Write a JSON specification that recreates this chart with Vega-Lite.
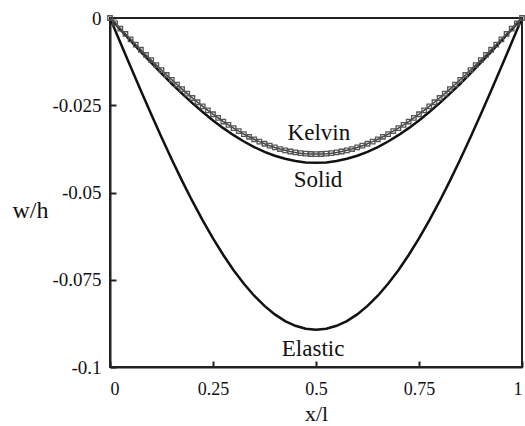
{
  "$schema": "https://vega.github.io/schema/vega-lite/v6.json",
  "width": 412,
  "height": 349,
  "autosize": "none",
  "padding": {"left": 110, "top": 18, "right": 3, "bottom": 59},
  "background": "white",
  "config": {
    "view": {"stroke": "#222", "strokeWidth": 2},
    "font": "Liberation Serif",
    "axis": {
      "grid": false,
      "domainColor": "#222",
      "domainWidth": 2,
      "tickColor": "#222",
      "tickWidth": 2,
      "tickSize": -6,
      "labelFont": "Liberation Serif",
      "labelColor": "#111",
      "titleFont": "Liberation Serif",
      "titleFontWeight": "normal",
      "titleColor": "#111"
    }
  },
  "datasets": {
    "curves": [
      {"x": 0, "solid": 0, "elastic": 0},
      {"x": 0.025, "solid": -0.00326, "elastic": -0.00701},
      {"x": 0.05, "solid": -0.00649, "elastic": -0.01397},
      {"x": 0.075, "solid": -0.00969, "elastic": -0.02085},
      {"x": 0.1, "solid": -0.01282, "elastic": -0.0276},
      {"x": 0.125, "solid": -0.01588, "elastic": -0.03417},
      {"x": 0.15, "solid": -0.01884, "elastic": -0.04054},
      {"x": 0.175, "solid": -0.02168, "elastic": -0.04666},
      {"x": 0.2, "solid": -0.02439, "elastic": -0.05249},
      {"x": 0.225, "solid": -0.02695, "elastic": -0.058},
      {"x": 0.25, "solid": -0.02934, "elastic": -0.06315},
      {"x": 0.275, "solid": -0.03156, "elastic": -0.0679},
      {"x": 0.3, "solid": -0.03357, "elastic": -0.07225},
      {"x": 0.325, "solid": -0.03538, "elastic": -0.07614},
      {"x": 0.35, "solid": -0.03698, "elastic": -0.07957},
      {"x": 0.375, "solid": -0.03834, "elastic": -0.0825},
      {"x": 0.4, "solid": -0.03947, "elastic": -0.08493},
      {"x": 0.425, "solid": -0.04035, "elastic": -0.08683},
      {"x": 0.45, "solid": -0.04099, "elastic": -0.0882},
      {"x": 0.475, "solid": -0.04137, "elastic": -0.08902},
      {"x": 0.5, "solid": -0.0415, "elastic": -0.0893},
      {"x": 0.525, "solid": -0.04137, "elastic": -0.08902},
      {"x": 0.55, "solid": -0.04099, "elastic": -0.0882},
      {"x": 0.575, "solid": -0.04035, "elastic": -0.08683},
      {"x": 0.6, "solid": -0.03947, "elastic": -0.08493},
      {"x": 0.625, "solid": -0.03834, "elastic": -0.0825},
      {"x": 0.65, "solid": -0.03698, "elastic": -0.07957},
      {"x": 0.675, "solid": -0.03538, "elastic": -0.07614},
      {"x": 0.7, "solid": -0.03357, "elastic": -0.07225},
      {"x": 0.725, "solid": -0.03156, "elastic": -0.0679},
      {"x": 0.75, "solid": -0.02934, "elastic": -0.06315},
      {"x": 0.775, "solid": -0.02695, "elastic": -0.058},
      {"x": 0.8, "solid": -0.02439, "elastic": -0.05249},
      {"x": 0.825, "solid": -0.02168, "elastic": -0.04666},
      {"x": 0.85, "solid": -0.01884, "elastic": -0.04054},
      {"x": 0.875, "solid": -0.01588, "elastic": -0.03417},
      {"x": 0.9, "solid": -0.01282, "elastic": -0.0276},
      {"x": 0.925, "solid": -0.00969, "elastic": -0.02085},
      {"x": 0.95, "solid": -0.00649, "elastic": -0.01397},
      {"x": 0.975, "solid": -0.00326, "elastic": -0.00701},
      {"x": 1, "solid": 0, "elastic": 0}
    ],
    "kelvin": [
      {"x": 0, "y": 0},
      {"x": 0.0125, "y": -0.00153},
      {"x": 0.025, "y": -0.00306},
      {"x": 0.0375, "y": -0.00458},
      {"x": 0.05, "y": -0.0061},
      {"x": 0.0625, "y": -0.00761},
      {"x": 0.075, "y": -0.0091},
      {"x": 0.0875, "y": -0.01059},
      {"x": 0.1, "y": -0.01205},
      {"x": 0.1125, "y": -0.0135},
      {"x": 0.125, "y": -0.01492},
      {"x": 0.1375, "y": -0.01633},
      {"x": 0.15, "y": -0.01771},
      {"x": 0.1625, "y": -0.01906},
      {"x": 0.175, "y": -0.02038},
      {"x": 0.1875, "y": -0.02167},
      {"x": 0.2, "y": -0.02292},
      {"x": 0.2125, "y": -0.02414},
      {"x": 0.225, "y": -0.02533},
      {"x": 0.2375, "y": -0.02647},
      {"x": 0.25, "y": -0.02758},
      {"x": 0.2625, "y": -0.02864},
      {"x": 0.275, "y": -0.02966},
      {"x": 0.2875, "y": -0.03063},
      {"x": 0.3, "y": -0.03155},
      {"x": 0.3125, "y": -0.03243},
      {"x": 0.325, "y": -0.03325},
      {"x": 0.3375, "y": -0.03403},
      {"x": 0.35, "y": -0.03475},
      {"x": 0.3625, "y": -0.03542},
      {"x": 0.375, "y": -0.03603},
      {"x": 0.3875, "y": -0.03659},
      {"x": 0.4, "y": -0.03709},
      {"x": 0.4125, "y": -0.03754},
      {"x": 0.425, "y": -0.03792},
      {"x": 0.4375, "y": -0.03825},
      {"x": 0.45, "y": -0.03852},
      {"x": 0.4625, "y": -0.03873},
      {"x": 0.475, "y": -0.03888},
      {"x": 0.4875, "y": -0.03897},
      {"x": 0.5, "y": -0.039},
      {"x": 0.5125, "y": -0.03897},
      {"x": 0.525, "y": -0.03888},
      {"x": 0.5375, "y": -0.03873},
      {"x": 0.55, "y": -0.03852},
      {"x": 0.5625, "y": -0.03825},
      {"x": 0.575, "y": -0.03792},
      {"x": 0.5875, "y": -0.03754},
      {"x": 0.6, "y": -0.03709},
      {"x": 0.6125, "y": -0.03659},
      {"x": 0.625, "y": -0.03603},
      {"x": 0.6375, "y": -0.03542},
      {"x": 0.65, "y": -0.03475},
      {"x": 0.6625, "y": -0.03403},
      {"x": 0.675, "y": -0.03325},
      {"x": 0.6875, "y": -0.03243},
      {"x": 0.7, "y": -0.03155},
      {"x": 0.7125, "y": -0.03063},
      {"x": 0.725, "y": -0.02966},
      {"x": 0.7375, "y": -0.02864},
      {"x": 0.75, "y": -0.02758},
      {"x": 0.7625, "y": -0.02647},
      {"x": 0.775, "y": -0.02533},
      {"x": 0.7875, "y": -0.02414},
      {"x": 0.8, "y": -0.02292},
      {"x": 0.8125, "y": -0.02167},
      {"x": 0.825, "y": -0.02038},
      {"x": 0.8375, "y": -0.01906},
      {"x": 0.85, "y": -0.01771},
      {"x": 0.8625, "y": -0.01633},
      {"x": 0.875, "y": -0.01492},
      {"x": 0.8875, "y": -0.0135},
      {"x": 0.9, "y": -0.01205},
      {"x": 0.9125, "y": -0.01059},
      {"x": 0.925, "y": -0.0091},
      {"x": 0.9375, "y": -0.00761},
      {"x": 0.95, "y": -0.0061},
      {"x": 0.9625, "y": -0.00458},
      {"x": 0.975, "y": -0.00306},
      {"x": 0.9875, "y": -0.00153},
      {"x": 1, "y": 0}
    ],
    "labels": [
      {"x": 0.507, "y": -0.035, "text": "Kelvin"},
      {"x": 0.505, "y": -0.0484, "text": "Solid"},
      {"x": 0.493, "y": -0.0968, "text": "Elastic"}
    ]
  },
  "layer": [
    {
      "data": {"name": "curves"},
      "transform": [{"fold": ["solid", "elastic"], "as": ["series", "y"]}],
      "mark": {"type": "line", "stroke": "#111", "strokeWidth": 2.5, "clip": true},
      "encoding": {
        "x": {
          "field": "x", "type": "quantitative",
          "scale": {"domain": [0, 1], "nice": false, "zero": false},
          "axis": {
            "values": [0, 0.25, 0.5, 0.75, 1],
            "labelExpr": "'' + datum.value",
            "labelFontSize": 18,
            "labelPadding": 19,
            "title": "x/l",
            "titleFontSize": 22,
            "titleY": 53,
            "titleBaseline": "alphabetic"
          }
        },
        "y": {
          "field": "y", "type": "quantitative",
          "scale": {"domain": [-0.1, 0], "nice": false, "zero": false},
          "axis": {
            "values": [-0.1, -0.075, -0.05, -0.025, 0],
            "labelExpr": "'' + datum.value",
            "labelFontSize": 19,
            "labelPadding": 15,
            "title": "w/h",
            "titleFontSize": 24,
            "titleAngle": 0,
            "titleX": -80,
            "titleY": 199,
            "titleAlign": "center",
            "titleBaseline": "alphabetic"
          }
        },
        "detail": {"field": "series"}
      }
    },
    {
      "data": {"name": "kelvin"},
      "mark": {"type": "line", "stroke": "#444", "strokeWidth": 1.5},
      "encoding": {
        "x": {"field": "x", "type": "quantitative"},
        "y": {"field": "y", "type": "quantitative"}
      }
    },
    {
      "data": {"name": "kelvin"},
      "mark": {"type": "point", "shape": "square", "filled": false, "stroke": "#555", "strokeWidth": 1.3, "size": 20, "opacity": 1},
      "encoding": {
        "x": {"field": "x", "type": "quantitative"},
        "y": {"field": "y", "type": "quantitative"}
      }
    },
    {
      "data": {"name": "labels"},
      "mark": {"type": "text", "font": "Liberation Serif", "fontSize": 23, "align": "center", "baseline": "alphabetic", "color": "#111"},
      "encoding": {
        "x": {"field": "x", "type": "quantitative"},
        "y": {"field": "y", "type": "quantitative"},
        "text": {"field": "text"}
      }
    }
  ]
}
